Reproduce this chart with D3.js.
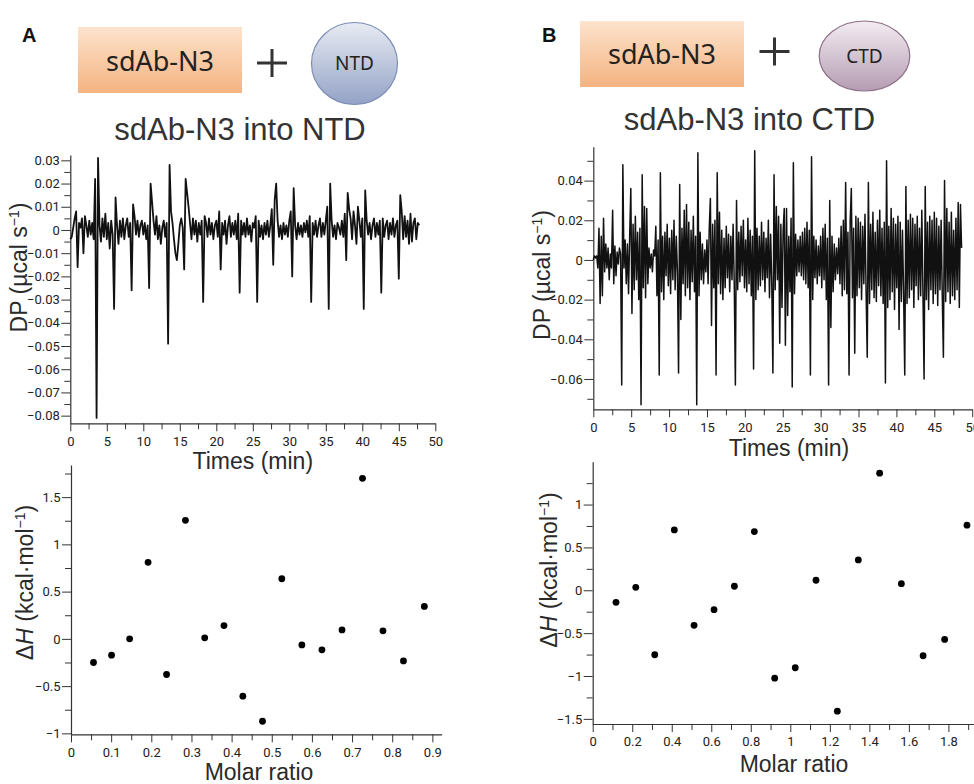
<!DOCTYPE html>
<html><head><meta charset="utf-8">
<script src="https://cdn.jsdelivr.net/npm/d3@7"></script>
<style>
html,body{margin:0;padding:0;background:#fff;}
svg{display:block;}
.tick text{font-family:Roboto,"Liberation Sans",sans-serif;font-size:13px;fill:#222;}
.tick line{stroke:#333;}
.domain{stroke:#333;stroke-width:1.2;}
</style></head><body><svg id="c" width="974" height="784"></svg>
<script>
// ---------- DATA ----------
const dpAStep = 0.2; // min between samples
const dpA = [
-0.004,-0.003,0.001,0.005,0.008,-0.016,0.003,0.001,0.005,-0.010,
0.006,0.002,-0.003,0.004,-0.002,0.003,-0.004,0.022,-0.081,0.031,
0.002,-0.005,0.005,-0.003,0.007,-0.004,0.003,-0.008,0.004,-0.002,
-0.034,0.014,0.002,-0.006,0.004,-0.003,0.005,-0.004,0.002,0.005,
-0.003,0.003,-0.026,0.011,0.006,-0.002,0.004,-0.003,0.002,0.004,
-0.002,0.003,-0.004,0.002,-0.025,0.020,0.012,0.004,-0.002,0.006,
-0.004,0.002,-0.006,0.001,0.004,-0.003,0.003,-0.049,0.028,0.008,
0.003,-0.004,-0.010,-0.013,-0.006,0.002,0.005,0.001,-0.017,0.022,
0.016,0.010,0.003,-0.004,0.005,-0.002,0.004,-0.005,0.003,-0.002,
0.004,-0.031,0.006,0.003,-0.003,0.005,-0.002,0.003,-0.004,0.002,
0.004,-0.003,0.008,-0.017,0.003,-0.002,0.004,-0.006,0.002,0.006,
-0.003,0.003,-0.002,0.004,-0.004,0.007,-0.027,0.004,-0.002,0.003,
-0.003,0.005,-0.002,0.002,-0.005,0.003,0.001,0.006,-0.031,0.004,
-0.003,0.002,-0.004,0.003,-0.002,0.004,-0.003,0.002,0.009,-0.015,
0.013,0.020,0.004,-0.003,0.002,-0.004,0.003,-0.002,0.002,-0.003,
0.004,0.008,-0.020,0.018,0.002,-0.004,0.003,-0.002,0.002,-0.003,
0.003,-0.001,0.004,-0.003,0.006,-0.031,0.003,-0.002,0.004,-0.003,
0.002,0.005,-0.003,0.003,-0.002,0.004,0.010,-0.034,0.020,0.004,
-0.003,0.002,-0.004,0.003,0.001,-0.002,0.004,-0.003,0.007,-0.013,
0.016,0.009,0.005,-0.004,0.008,0.002,-0.006,0.010,0.004,-0.003,
0.005,-0.034,0.017,0.004,-0.002,0.003,-0.004,0.002,0.005,-0.003,
0.003,-0.002,0.004,-0.027,0.005,-0.003,0.002,0.004,-0.004,0.003,
-0.002,0.005,-0.003,0.002,0.004,-0.021,0.015,0.008,-0.004,0.006,
-0.003,0.004,-0.006,0.007,-0.005,0.003,0.005,-0.004,0.003,0.002
];
const dpBStep = 0.15;
const dpB = [
0.000,0.002,0.001,0.002,-0.004,0.016,-0.022,0.012,-0.018,0.021,
-0.006,0.008,-0.004,0.006,-0.010,0.003,-0.004,0.025,-0.012,0.007,
-0.008,0.004,-0.002,0.006,0.003,-0.063,0.048,-0.004,0.010,-0.012,
0.008,-0.017,0.012,0.036,-0.027,0.018,-0.015,0.022,-0.010,0.014,
-0.020,0.016,-0.073,0.043,-0.014,0.027,-0.019,0.026,-0.012,0.006,
-0.004,0.003,-0.006,0.005,0.002,0.017,-0.018,0.010,-0.058,0.044,
-0.016,0.012,-0.020,0.014,-0.008,0.018,-0.013,0.011,-0.017,0.015,
-0.010,0.020,-0.015,0.012,-0.006,-0.057,0.038,-0.030,0.016,-0.012,
0.025,-0.018,0.028,-0.014,0.019,-0.020,0.015,-0.011,0.022,-0.016,
0.012,-0.073,0.054,-0.018,0.014,-0.010,0.008,-0.012,0.005,-0.006,
0.010,-0.012,0.016,0.031,-0.033,0.018,-0.014,0.020,-0.058,0.044,
-0.012,0.024,-0.017,0.015,-0.020,0.011,-0.014,0.017,-0.009,0.013,
-0.016,0.012,-0.010,0.018,-0.012,-0.063,0.030,-0.015,0.014,-0.011,
0.017,-0.008,0.020,-0.014,0.010,-0.016,0.021,-0.012,0.015,-0.018,
0.012,-0.055,0.055,-0.020,0.016,-0.015,0.012,-0.013,0.019,-0.010,
0.014,-0.016,0.011,-0.009,0.020,-0.019,0.013,-0.012,-0.057,0.043,
-0.015,0.027,-0.010,0.022,-0.042,0.018,-0.024,0.015,0.026,-0.043,
0.026,-0.028,0.012,-0.016,0.021,-0.064,0.049,-0.017,0.013,-0.008,
0.010,-0.006,0.012,-0.008,0.014,-0.010,0.016,-0.012,0.019,-0.014,
0.015,-0.058,0.052,-0.020,0.012,-0.009,0.010,-0.012,0.007,-0.008,
0.012,-0.014,0.016,-0.010,0.018,-0.020,0.011,-0.063,0.030,-0.034,
0.012,-0.016,0.008,-0.010,0.006,-0.007,0.011,-0.012,0.017,-0.018,
0.020,-0.015,0.039,-0.017,0.014,-0.058,0.020,0.036,-0.019,0.016,
-0.047,0.022,-0.018,0.021,-0.014,0.019,-0.020,0.017,-0.012,0.023,
-0.016,-0.049,0.039,-0.022,0.018,-0.015,0.024,-0.019,0.014,-0.021,
0.020,-0.013,0.025,-0.018,0.016,-0.022,0.019,-0.062,0.050,-0.024,
0.017,-0.020,0.026,-0.016,0.021,-0.025,0.018,-0.014,0.022,-0.035,
0.019,-0.021,0.015,-0.017,-0.058,0.037,-0.022,0.020,-0.019,0.023,
-0.015,0.021,-0.024,0.018,-0.013,0.022,-0.020,0.016,-0.018,0.025,
-0.016,-0.060,0.037,-0.020,0.019,-0.025,0.022,-0.015,0.020,-0.022,
0.024,-0.017,0.021,-0.023,0.017,-0.015,0.020,-0.018,-0.049,0.040,
-0.021,0.026,-0.016,0.019,-0.022,0.024,-0.018,0.015,-0.020,0.021,
-0.015,0.029,-0.024,0.028,0.006
];
const molarA = [0.056,0.101,0.146,0.192,0.238,0.285,0.333,0.381,0.428,0.477,0.525,0.575,0.625,0.675,0.726,0.777,0.828,0.880];
const heatA  = [-0.25,-0.173,0.0,0.81,-0.377,1.254,0.011,0.141,-0.607,-0.872,0.636,-0.064,-0.116,0.095,1.699,0.085,-0.233,0.343];
const molarB = [0.118,0.218,0.314,0.413,0.513,0.614,0.717,0.818,0.921,1.025,1.130,1.238,1.344,1.452,1.562,1.672,1.781,1.894];
const heatB  = [-0.14,0.035,-0.752,0.704,-0.409,-0.226,0.047,0.685,-1.025,-0.904,0.117,-1.41,0.354,1.366,0.077,-0.764,-0.573,0.759];

// ---------- TICKS ----------
const timeTicks = [0,5,10,15,20,25,30,35,40,45,50];
const timeLabels = ["0","5","10","15","20","25","30","35","40","45","50"];
const timeMinor = [2.5,7.5,12.5,17.5,22.5,27.5,32.5,37.5,42.5,47.5];
const dpATicks = [0.03,0.02,0.01,0,-0.01,-0.02,-0.03,-0.04,-0.05,-0.06,-0.07,-0.08];
const dpALabels = ["0.03","0.02","0.01","0","\u22120.01","\u22120.02","\u22120.03","\u22120.04","\u22120.05","\u22120.06","\u22120.07","\u22120.08"];
const dpAMinor = [0.025,0.015,0.005,-0.005,-0.015,-0.025,-0.035,-0.045,-0.055,-0.065,-0.075];
const dpBTicks = [0.04,0.02,0,-0.02,-0.04,-0.06];
const dpBLabels = ["0.04","0.02","0","\u22120.02","\u22120.04","\u22120.06"];
const dpBMinor = [0.05,0.03,0.01,-0.01,-0.03,-0.05,-0.07];
const molarATicks = [0,0.1,0.2,0.3,0.4,0.5,0.6,0.7,0.8,0.9];
const molarALabels = ["0","0.1","0.2","0.3","0.4","0.5","0.6","0.7","0.8","0.9"];
const molarAMinor = [0.05,0.15,0.25,0.35,0.45,0.55,0.65,0.75,0.85];
const heatATicks = [-1,-0.5,0,0.5,1,1.5];
const heatALabels = ["\u22121","\u22120.5","0","0.5","1","1.5"];
const heatAMinor = [-0.75,-0.25,0.25,0.75,1.25,1.75];
const molarBTicks = [0,0.2,0.4,0.6,0.8,1,1.2,1.4,1.6,1.8];
const molarBLabels = ["0","0.2","0.4","0.6","0.8","1","1.2","1.4","1.6","1.8"];
const molarBMinor = [0.1,0.3,0.5,0.7,0.9,1.1,1.3,1.5,1.7,1.9];
const heatBTicks = [-1.5,-1,-0.5,0,0.5,1];
const heatBLabels = ["\u22121.5","\u22121","\u22120.5","0","0.5","1"];
const heatBMinor = [-1.25,-0.75,-0.25,0.25,0.75,1.25];

// ---------- DRAW ----------
const svg = d3.select("#c");
const defs = svg.append("defs");
function vgrad(id, c1, c2){
  const g = defs.append("linearGradient").attr("id",id).attr("x1",0).attr("y1",0).attr("x2",0).attr("y2",1);
  g.append("stop").attr("offset","0%").attr("stop-color",c1);
  g.append("stop").attr("offset","100%").attr("stop-color",c2);
}
vgrad("gBox","#fde3cd","#f4b381");
vgrad("gNTD","#e8ebf3","#93a2c6");
vgrad("gCTD","#f3ecf2","#b59cb2");

const arial = '"Liberation Sans",Arial,sans-serif';
const calib = '"Noto Sans","Open Sans",sans-serif';

function header(letter, lx, box, plus, ell, ellName, grad, stroke, sub){
  svg.append("text").attr("x",lx).attr("y",42).attr("font-family",arial).attr("font-weight","bold")
     .attr("font-size",20).attr("fill","#111").text(letter);
  svg.append("rect").attr("x",box[0]).attr("y",box[1]).attr("width",box[2]).attr("height",box[3]).attr("fill","url(#gBox)");
  svg.append("text").attr("x",box[0]+box[2]/2).attr("y",box[4]).attr("text-anchor","middle")
     .attr("font-family",calib).attr("font-size",27).attr("fill","#222").text("sdAb-N3");
  svg.append("line").attr("x1",plus[0]-15).attr("x2",plus[0]+15).attr("y1",plus[1]).attr("y2",plus[1]).attr("stroke","#333").attr("stroke-width",3);
  svg.append("line").attr("x1",plus[0]).attr("x2",plus[0]).attr("y1",plus[1]-14).attr("y2",plus[1]+14).attr("stroke","#333").attr("stroke-width",3);
  svg.append("ellipse").attr("cx",ell[0]).attr("cy",ell[1]).attr("rx",ell[2]).attr("ry",ell[3])
     .attr("fill",`url(#${grad})`).attr("stroke",stroke).attr("stroke-width",1.2);
  svg.append("text").attr("x",ell[0]).attr("y",ell[4]).attr("text-anchor","middle")
     .attr("font-family",calib).attr("font-size",19).attr("fill","#222").text(ellName);
  svg.append("text").attr("x",sub[0]).attr("y",sub[1]).attr("text-anchor","middle")
     .attr("font-family",arial).attr("font-size",31).attr("fill","#333").text(sub[2]);
}
header("A",22,[78,27,164,66,71],[272,63],[354.5,63.5,43,41,70],"NTD","gNTD","#7b8db4",[240,140,"sdAb-N3 into NTD"]);
header("B",542,[580,21,164,66,64],[774.5,51.5],[864.5,56,45.3,35,63],"CTD","gCTD","#8d6f88",[749.5,130,"sdAb-N3 into CTD"]);

function axes(x, y, xT, xL, xM, yT, yL, yM){
  const g = svg.append("g");
  const y0 = y.range()[0], x0 = x.range()[0];
  g.append("g").attr("transform",`translate(0,${y0})`)
   .call(d3.axisBottom(x).tickValues(xM).tickFormat("").tickSize(6).tickSizeOuter(0))
   .call(s=>s.select(".domain").remove());
  g.append("g").attr("transform",`translate(${x0},0)`)
   .call(d3.axisLeft(y).tickValues(yM).tickFormat("").tickSize(6).tickSizeOuter(0))
   .call(s=>s.select(".domain").remove());
  g.append("g").attr("transform",`translate(0,${y0})`)
   .call(d3.axisBottom(x).tickValues(xT).tickFormat((d,i)=>xL[i]).tickSize(8).tickPadding(5).tickSizeOuter(0));
  g.append("g").attr("transform",`translate(${x0},0)`)
   .call(d3.axisLeft(y).tickValues(yT).tickFormat((d,i)=>yL[i]).tickSize(9).tickPadding(1.5).tickSizeOuter(0));
}
function ytitle(x, y, parts){
  const t = svg.append("text").attr("transform",`translate(${x},${y}) rotate(-90)`).attr("text-anchor","middle")
     .attr("font-family",arial).attr("font-size",23).attr("fill","#2a2a2a");
  parts(t);
}
function xtitle(x, y, s){
  svg.append("text").attr("x",x).attr("y",y).attr("text-anchor","middle").attr("font-family",arial)
     .attr("font-size",23).attr("fill","#2a2a2a").text(s);
}
function dpTitle(t){
  t.append("tspan").text("DP (\u00b5cal s");
  t.append("tspan").attr("dy",-8).attr("font-size",14).text("\u22121");
  t.append("tspan").attr("dy",8).text(")");
}
function dhTitle(t){
  t.append("tspan").text("\u0394");
  t.append("tspan").attr("font-style","italic").text("H");
  t.append("tspan").text(" (kcal\u00b7mol");
  t.append("tspan").attr("dy",-8).attr("font-size",14).text("\u22121");
  t.append("tspan").attr("dy",8).text(")");
}

// Panel A – DP
const xA1 = d3.scaleLinear().domain([0,50]).range([70.3,435.3]);
const yA1 = d3.scaleLinear().domain([-0.0833,0.0323]).range([423.3,155]);
axes(xA1,yA1,timeTicks,timeLabels,timeMinor,dpATicks,dpALabels,dpAMinor);
svg.append("path").datum(dpA).attr("fill","none").attr("stroke","#111").attr("stroke-width",1.8)
   .attr("stroke-linejoin","round")
   .attr("d",d3.line().x((d,i)=>xA1(i*dpAStep)).y(d=>yA1(d)));
ytitle(27,267.5,dpTitle);
xtitle(252.8,469,"Times (min)");

// Panel B – DP
const xB1 = d3.scaleLinear().domain([0,50]).range([593.3,972.2]);
const yB1 = d3.scaleLinear().domain([-0.0753,0.0571]).range([409.3,146.7]);
axes(xB1,yB1,timeTicks,timeLabels,timeMinor,dpBTicks,dpBLabels,dpBMinor);
svg.append("path").datum(dpB).attr("fill","none").attr("stroke","#111").attr("stroke-width",1.5)
   .attr("stroke-linejoin","round")
   .attr("d",d3.line().x((d,i)=>xB1(i*dpBStep)).y(d=>yB1(d)));
ytitle(550,275,dpTitle);
xtitle(789,456,"Times (min)");

// Panel A – ΔH
const xA2 = d3.scaleLinear().domain([0,0.923]).range([71,441.6]);
const yA2 = d3.scaleLinear().domain([-1.01,1.84]).range([734.3,465]);
axes(xA2,yA2,molarATicks,molarALabels,molarAMinor,heatATicks,heatALabels,heatAMinor);
svg.append("g").selectAll("circle").data(molarA).join("circle")
   .attr("cx",d=>xA2(d)).attr("cy",(d,i)=>yA2(heatA[i])).attr("r",3.4).attr("fill","#000");
ytitle(32.5,582.5,dhTitle);
xtitle(259,780,"Molar ratio");

// Panel B – ΔH
const xB2 = d3.scaleLinear().domain([0,1.926]).range([592.7,973.3]);
const yB2 = d3.scaleLinear().domain([-1.56,1.50]).range([724,461.7]);
axes(xB2,yB2,molarBTicks,molarBLabels,molarBMinor,heatBTicks,heatBLabels,heatBMinor);
svg.append("g").selectAll("circle").data(molarB).join("circle")
   .attr("cx",d=>xB2(d)).attr("cy",(d,i)=>yB2(heatB[i])).attr("r",3.4).attr("fill","#000");
ytitle(557,570,dhTitle);
xtitle(794,772,"Molar ratio");
</script></body></html>
